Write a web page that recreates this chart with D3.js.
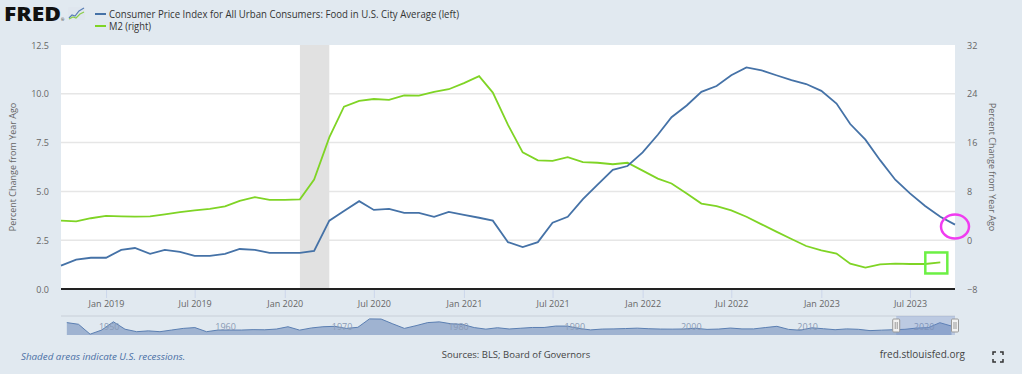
<!DOCTYPE html>
<html>
<head>
<meta charset="utf-8">
<script src="https://cdn.jsdelivr.net/npm/d3@7"></script>
<style>
  body { margin: 0; background: #e1e9f0; }
  svg { display: block; font-family: "Open Sans", sans-serif; }
</style>
</head>
<body>
<div id="chart"></div>
<script>
// monthly observations, Oct 2018 .. Oct 2023
const months = d3.timeMonth.range(new Date(2018, 9, 1), new Date(2023, 10, 1));

// CPI Food, percent change from year ago (left axis)
const cpiFood = [
  1.2, 1.5, 1.6,
  1.6, 2.0, 2.1, 1.8, 2.0, 1.9, 1.7, 1.7, 1.8, 2.05, 2.0, 1.85,
  1.85, 1.85, 1.95, 3.5, 4.0, 4.5, 4.05, 4.1, 3.9, 3.9, 3.7, 3.95,
  3.8, 3.65, 3.5, 2.4, 2.15, 2.4, 3.4, 3.7, 4.6, 5.35, 6.1, 6.3,
  7.0, 7.9, 8.8, 9.4, 10.1, 10.4, 10.95, 11.35, 11.2, 10.95, 10.7, 10.5,
  10.15, 9.5, 8.45, 7.65, 6.6, 5.6, 4.9, 4.25, 3.7, 3.3
];

// M2, percent change from year ago (right axis), ends Sep 2023
const m2 = [
  3.2, 3.1, 3.6,
  4.0, 3.9, 3.85, 3.9, 4.25, 4.6, 4.9, 5.15, 5.55, 6.45, 7.05, 6.6,
  6.6, 6.7, 9.95, 16.85, 21.9, 22.85, 23.15, 23.0, 23.75, 23.7, 24.3, 24.75,
  25.75, 26.9, 24.2, 18.9, 14.4, 13.1, 13.0, 13.6, 12.8, 12.7, 12.45, 12.7,
  11.4, 10.1, 9.3, 7.65, 6.0, 5.6, 4.9, 3.85, 2.6, 1.4, 0.2, -0.95,
  -1.65, -2.2, -3.85, -4.5, -3.95, -3.85, -3.9, -3.9, -3.65
];

const leftTicks = [0, 2.5, 5, 7.5, 10, 12.5];
const rightTicks = [-8, 0, 8, 16, 24, 32];
const xTicks = ['2019-01', '2019-07', '2020-01', '2020-07', '2021-01', '2021-07',
  '2022-01', '2022-07', '2023-01', '2023-07'];
const recession = ['2020-02', '2020-04'];

// navigator: annual food CPI change, 1947 .. 2023
const navYears = d3.range(1947, 2024);
const navValues = [
  10, 8, -4, 1, 11, 2, -1, 0, -1, 1, 3, 4, -1, 1, 1, 1, 1.5, 1.3, 2.2, 5,
  0.9, 3.5, 5, 5.5, 3, 4.3, 14.5, 14.3, 8.5, 3, 6.3, 10, 10.9, 8.6, 7.8, 4,
  2.1, 3.8, 2.3, 3.2, 4.1, 4.1, 5.8, 5.8, 2.9, 1.2, 2.2, 2.4, 2.8, 3.3, 2.6,
  2.2, 2.1, 2.3, 3.2, 1.8, 2.2, 3.4, 2.4, 2.4, 4.0, 5.5, 1.8, 0.8, 3.7, 2.6,
  1.4, 2.4, 1.9, 0.3, 0.9, 1.4, 1.9, 3.4, 3.9, 9.9, 5.8
];
const navLabels = [1950, 1960, 1970, 1980, 1990, 2000, 2010, 2020];

const legendItems = [
  { name: 'Consumer Price Index for All Urban Consumers: Food in U.S. City Average (left)', color: '#4572a7', len: 350 },
  { name: 'M2 (right)', color: '#7fd425', len: 42 }
];

const W = 1022, H = 374;
const margin = { top: 45, right: 67, bottom: 85, left: 61 };
const width = W - margin.left - margin.right;
const height = H - margin.top - margin.bottom;

const parse = d3.timeParse('%Y-%m');

const svg = d3.select('#chart').append('svg')
  .attr('width', W)
  .attr('height', H);

svg.append('rect').attr('width', W).attr('height', H).attr('fill', '#e1e9f0');

// header: logo + legend
const logo = svg.append('g');
logo.append('text')
  .attr('x', 4).attr('y', 21)
  .attr('font-size', 19).attr('font-weight', 800)
  .attr('textLength', 57).attr('lengthAdjust', 'spacingAndGlyphs')
  .attr('fill', '#111')
  .text('FRED');
logo.append('text').attr('x', 61).attr('y', 21).attr('font-size', 4).attr('fill', '#111').text('®');
logo.append('rect').attr('x', 68).attr('y', 7).attr('width', 17).attr('height', 13)
  .attr('fill', '#dfe6ee').attr('rx', 1);
logo.append('path').attr('d', 'M69,18 L72,15 L75,16 L79,11 L84,8')
  .attr('fill', 'none').attr('stroke', '#5a7fb5').attr('stroke-width', 1.2);
logo.append('path').attr('d', 'M69,19 L73,17 L76,18 L80,14 L84,12')
  .attr('fill', 'none').attr('stroke', '#8ccf4a').attr('stroke-width', 1.2);

const legend = svg.append('g');
legendItems.forEach((d, i) => {
  const y = 14 + i * 12;
  legend.append('line')
    .attr('x1', 95).attr('x2', 106).attr('y1', y).attr('y2', y)
    .attr('stroke', d.color).attr('stroke-width', 2);
  legend.append('text')
    .attr('x', 109).attr('y', y + 3.6)
    .attr('font-size', 10.5).attr('fill', '#333')
    .attr('textLength', d.len).attr('lengthAdjust', 'spacingAndGlyphs')
    .text(d.name);
});

const group = svg.append('g')
  .attr('transform', 'translate(' + margin.left + ',' + margin.top + ')');

// scales
const xScale = d3.scaleTime()
  .domain([months[0], months[months.length - 1]])
  .range([0, width]);
const yLeft = d3.scaleLinear().domain([0, 12.5]).range([height, 0]);
const yRight = d3.scaleLinear().domain([-8, 32]).range([height, 0]);

group.append('rect').attr('width', width).attr('height', height).attr('fill', '#fff');

// gridlines
group.append('g').selectAll('line')
  .data(leftTicks.slice(1, -1))
  .join('line')
  .attr('x1', 0).attr('x2', width)
  .attr('y1', (d) => yLeft(d)).attr('y2', (d) => yLeft(d))
  .attr('stroke', '#e6e6e6').attr('stroke-width', 1.5);

// recession shading
group.append('rect')
  .attr('x', xScale(parse(recession[0])))
  .attr('width', xScale(parse(recession[1])) - xScale(parse(recession[0])))
  .attr('y', 0).attr('height', height)
  .attr('fill', '#e1e1e1');

// axes
const yAxisLeft = d3.axisLeft(yLeft).tickValues(leftTicks).tickFormat(d3.format('.1f')).tickSize(0).tickPadding(12);
const yAxisRight = d3.axisRight(yRight).tickValues(rightTicks).tickSize(0).tickPadding(12);
const xAxis = d3.axisBottom(xScale).tickValues(xTicks.map(parse))
  .tickFormat(d3.timeFormat('%b %Y')).tickSize(9).tickPadding(3);

const yl = group.append('g').call(yAxisLeft);
const yr = group.append('g').attr('transform', 'translate(' + width + ',0)').call(yAxisRight);
const xg = group.append('g').attr('transform', 'translate(0,' + height + ')').call(xAxis);

[yl, yr, xg].forEach((g) => {
  g.select('.domain').remove();
  g.selectAll('text').attr('font-size', 9).attr('fill', '#666').attr('font-family', '"Open Sans", sans-serif');
});
yl.selectAll('text').attr('dy', '0.35em');
yr.selectAll('text').attr('dy', '0.35em');
xg.selectAll('line').attr('stroke', '#ccd6eb');

group.append('line')
  .attr('x1', 0).attr('x2', width).attr('y1', height).attr('y2', height)
  .attr('stroke', '#222').attr('stroke-width', 2);

// axis titles
svg.append('text')
  .attr('transform', 'translate(16,' + (margin.top + height / 2) + ') rotate(-90)')
  .attr('text-anchor', 'middle').attr('font-size', 9).attr('fill', '#666')
  .text('Percent Change from Year Ago');
svg.append('text')
  .attr('transform', 'translate(989,' + (margin.top + height / 2) + ') rotate(90)')
  .attr('text-anchor', 'middle').attr('font-size', 9).attr('fill', '#666')
  .text('Percent Change from Year Ago');

// series lines
const lineLeft = d3.line().x((d, i) => xScale(months[i])).y((d) => yLeft(d));
const lineRight = d3.line().x((d, i) => xScale(months[i])).y((d) => yRight(d));

group.append('path').datum(m2)
  .attr('d', lineRight).attr('fill', 'none')
  .attr('stroke', legendItems[1].color).attr('stroke-width', 1.8);
group.append('path').datum(cpiFood)
  .attr('d', lineLeft).attr('fill', 'none')
  .attr('stroke', legendItems[0].color).attr('stroke-width', 1.8);

// hand-drawn markers at the latest observations
const lastBlue = cpiFood.length - 1;
group.append('ellipse')
  .attr('cx', xScale(months[lastBlue]))
  .attr('cy', yLeft(cpiFood[lastBlue]) + 2)
  .attr('rx', 14).attr('ry', 12)
  .attr('fill', 'none').attr('stroke', '#f03cf0').attr('stroke-width', 2.5);
const lastGreen = m2.length - 1;
group.append('rect')
  .attr('x', xScale(months[lastGreen]) - 15)
  .attr('y', yRight(m2[lastGreen]) - 10)
  .attr('width', 22).attr('height', 21)
  .attr('fill', 'none').attr('stroke', '#6cf044').attr('stroke-width', 2.5);

// navigator
const navTop = 316, navBottom = 335;
const navX = d3.scaleLinear().domain([1947, 2023.8]).range([margin.left, margin.left + width]);
const navY = d3.scaleLinear().domain([-5, 18]).range([navBottom, navTop]);
const nav = svg.append('g');

nav.append('path').datum(navValues)
  .attr('d', d3.area().x((d, i) => navX(navYears[i] + 0.5)).y0(navBottom).y1((d) => navY(d)))
  .attr('fill', '#9fb3d1');
nav.append('path').datum(navValues)
  .attr('d', d3.line().x((d, i) => navX(navYears[i] + 0.5)).y((d) => navY(d)))
  .attr('fill', 'none').attr('stroke', '#5b7fb2').attr('stroke-width', 1);

nav.selectAll('.navlabel')
  .data(navLabels)
  .join('text')
  .attr('x', (d) => navX(d) + 3).attr('y', 330)
  .attr('font-size', 9).attr('fill', '#8a9ab5')
  .text((d) => d);

nav.append('line')
  .attr('x1', margin.left).attr('x2', margin.left + width).attr('y1', navTop).attr('y2', navTop)
  .attr('stroke', '#c8cfd8');

const selStart = navX(2018.75), selEnd = navX(2023.8);
nav.append('rect')
  .attr('x', selStart).attr('y', navTop).attr('width', selEnd - selStart).attr('height', navBottom - navTop)
  .attr('fill', 'rgba(102,133,194,0.3)');
[selStart, selEnd].forEach((x) => {
  nav.append('rect')
    .attr('x', x - 3.5).attr('y', navTop + 3).attr('width', 7).attr('height', 13).attr('rx', 1)
    .attr('fill', '#f2f2f2').attr('stroke', '#999');
  nav.append('line').attr('x1', x - 1).attr('x2', x - 1).attr('y1', navTop + 6).attr('y2', navTop + 13).attr('stroke', '#999');
  nav.append('line').attr('x1', x + 1).attr('x2', x + 1).attr('y1', navTop + 6).attr('y2', navTop + 13).attr('stroke', '#999');
});

// footer
svg.append('text')
  .attr('x', 21).attr('y', 360)
  .attr('font-size', 9.8).attr('font-style', 'italic').attr('fill', '#4a6fa5')
  .text('Shaded areas indicate U.S. recessions.');
svg.append('text')
  .attr('x', 516).attr('y', 358)
  .attr('text-anchor', 'middle')
  .attr('font-size', 9.5).attr('fill', '#444')
  .text('Sources: BLS; Board of Governors');
svg.append('text')
  .attr('x', 965).attr('y', 358)
  .attr('text-anchor', 'end')
  .attr('font-size', 10).attr('fill', '#444')
  .text('fred.stlouisfed.org');
svg.append('path')
  .attr('d', 'M993,355 v-3 h3 M1000,352 h3 v3 M1003,359 v3 h-3 M996,362 h-3 v-3')
  .attr('fill', 'none').attr('stroke', '#333').attr('stroke-width', 1.5);
</script>
</body>
</html>
